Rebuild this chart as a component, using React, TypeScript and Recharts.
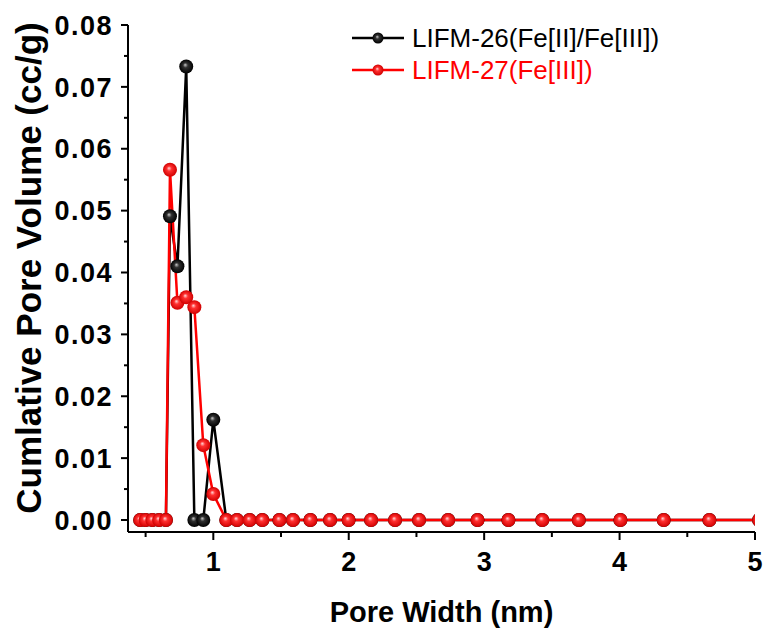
import { LineChart, Line, XAxis, YAxis } from "recharts";

// pore width (nm), shared by both samples
const poreWidth = [
  0.46, 0.5, 0.55, 0.6, 0.65, 0.68, 0.735, 0.8, 0.86, 0.926, 1.0, 1.096, 1.175, 1.268, 1.362, 1.488,
  1.588, 1.717, 1.862, 1.999, 2.165, 2.342, 2.519, 2.734, 2.951, 3.179, 3.429, 3.699, 4.006, 4.326,
  4.663, 5.03,
];

// cumulative pore volume (cc/g)
const lifm26 = [
  0, 0, 0, 0, 0, 0.0491, 0.041, 0.0733, 0, 0, 0.0162, 0, 0, 0, 0, 0,
  0, 0, 0, 0, 0, 0, 0, 0, 0, 0, 0, 0, 0, 0,
  0, 0,
];
const lifm27 = [
  0, 0, 0, 0, 0, 0.0566, 0.0351, 0.036, 0.0344, 0.0121, 0.0042, 0, 0, 0, 0, 0,
  0, 0, 0, 0, 0, 0, 0, 0, 0, 0, 0, 0, 0, 0,
  0, 0,
];

const seriesNames = ["LIFM-26(Fe[II]/Fe[III])", "LIFM-27(Fe[III])"];
const seriesColors = ["#000000", "#ff0000"];

const xMajor = [1, 2, 3, 4, 5];
const xMinor = [0.5, 1.5, 2.5, 3.5, 4.5];
const yMajor = [0, 0.01, 0.02, 0.03, 0.04, 0.05, 0.06, 0.07, 0.08];
const yMinor = [0.005, 0.015, 0.025, 0.035, 0.045, 0.055, 0.065, 0.075];

const data = poreWidth.map((w, i) => ({ w, a: lifm26[i], b: lifm27[i] }));

const FONT = "'Liberation Sans', Arial, sans-serif";
const W = 764;
const H = 630;

const isMajor = (v: number, list: number[]) => list.some((m) => Math.abs(m - v) < 1e-9);

const XTick = (props: any) => {
  const { x, y, payload } = props;
  const major = isMajor(payload.value, xMajor);
  return (
    <g>
      <line x1={x} x2={x} y1={y} y2={y + (major ? 8 : 5)} stroke="#000" strokeWidth={2} />
      {major && (
        <text x={x} y={y + 39} textAnchor="middle" fontFamily={FONT} fontWeight="bold" fontSize={27} fill="#000">
          {payload.value}
        </text>
      )}
    </g>
  );
};

const YTick = (props: any) => {
  const { x, y, payload } = props;
  const major = isMajor(payload.value, yMajor);
  return (
    <g>
      <line x1={x - (major ? 7 : 4)} x2={x} y1={y} y2={y} stroke="#000" strokeWidth={2} />
      {major && (
        <text
          x={x - 15}
          y={y}
          dy="0.36em"
          textAnchor="end"
          fontFamily={FONT}
          fontWeight="bold"
          fontSize={27}
          letterSpacing={1.5}
          fill="#000"
        >
          {payload.value.toFixed(2)}
        </text>
      )}
    </g>
  );
};

const LegendBox = () => (
  <div
    style={{
      position: "absolute",
      top: 22,
      left: 352,
      fontFamily: FONT,
      fontSize: 26,
      lineHeight: "32px",
    }}
  >
    {seriesNames.map((name, i) => (
      <div key={name} style={{ display: "flex", alignItems: "center", color: seriesColors[i] }}>
        <svg width={60} height={32}>
          <line x1={0} x2={52} y1={16} y2={16} stroke={seriesColors[i]} strokeWidth={2.5} />
          <circle cx={26} cy={16} r={5.5} fill={i === 0 ? "url(#ballBlack)" : "url(#ballRed)"} />
        </svg>
        <span>{name}</span>
      </div>
    ))}
  </div>
);

export default function App() {
  // pinned to the page corner so the chart can use the full window
  return (
    <div style={{ position: "absolute", left: 0, top: 0, width: W, height: H, overflow: "hidden", background: "#fff" }}>
      <LineChart width={W} height={H} data={data} margin={{ top: 25, right: 9, left: 0, bottom: 0 }}>
        <defs>
          <radialGradient id="ballRed" cx="50%" cy="50%" r="50%" fx="42%" fy="38%">
            <stop offset="0%" stopColor="#ffd8d8" />
            <stop offset="35%" stopColor="#ff3030" />
            <stop offset="100%" stopColor="#d00000" />
          </radialGradient>
          <radialGradient id="ballBlack" cx="50%" cy="50%" r="50%" fx="42%" fy="38%">
            <stop offset="0%" stopColor="#c8c8c8" />
            <stop offset="35%" stopColor="#303030" />
            <stop offset="100%" stopColor="#000000" />
          </radialGradient>
        </defs>
        <XAxis
          dataKey="w"
          type="number"
          domain={[0.37, 5]}
          allowDataOverflow
          ticks={[...xMinor, ...xMajor].sort((p, q) => p - q)}
          tick={<XTick />}
          tickLine={false}
          tickSize={0}
          tickMargin={0}
          height={98}
          axisLine={{ stroke: "#000", strokeWidth: 2 }}
          interval={0}
          label={{
            content: ({ viewBox }: any) => (
              <text
                x={viewBox.x + viewBox.width / 2}
                y={622}
                textAnchor="middle"
                fontFamily={FONT}
                fontWeight="bold"
                fontSize={29}
                fill="#000"
              >
                Pore Width (nm)
              </text>
            ),
          }}
        />
        <YAxis
          type="number"
          domain={[-0.00194, 0.08]}
          allowDataOverflow
          ticks={[...yMinor, ...yMajor].sort((p, q) => p - q)}
          tick={<YTick />}
          tickLine={false}
          tickSize={0}
          tickMargin={0}
          width={128}
          axisLine={{ stroke: "#000", strokeWidth: 2 }}
          interval={0}
          label={{
            content: () => (
              <text
                x={0}
                y={0}
                transform="translate(28 268) rotate(-90)"
                textAnchor="middle"
                dominantBaseline="central"
                fontFamily={FONT}
                fontWeight="bold"
                fontSize={35}
                fill="#000"
              >
                Cumlative Pore Volume (cc/g)
              </text>
            ),
          }}
        />
        <Line
          dataKey="a"
          name={seriesNames[0]}
          stroke={seriesColors[0]}
          strokeWidth={2.5}
          dot={{ r: 7, fill: "url(#ballBlack)", stroke: "none" }}
          activeDot={false}
          isAnimationActive={false}
        />
        <Line
          dataKey="b"
          name={seriesNames[1]}
          stroke={seriesColors[1]}
          strokeWidth={2.5}
          dot={{ r: 7, fill: "url(#ballRed)", stroke: "none" }}
          activeDot={false}
          isAnimationActive={false}
        />
      </LineChart>
      <LegendBox />
    </div>
  );
}
